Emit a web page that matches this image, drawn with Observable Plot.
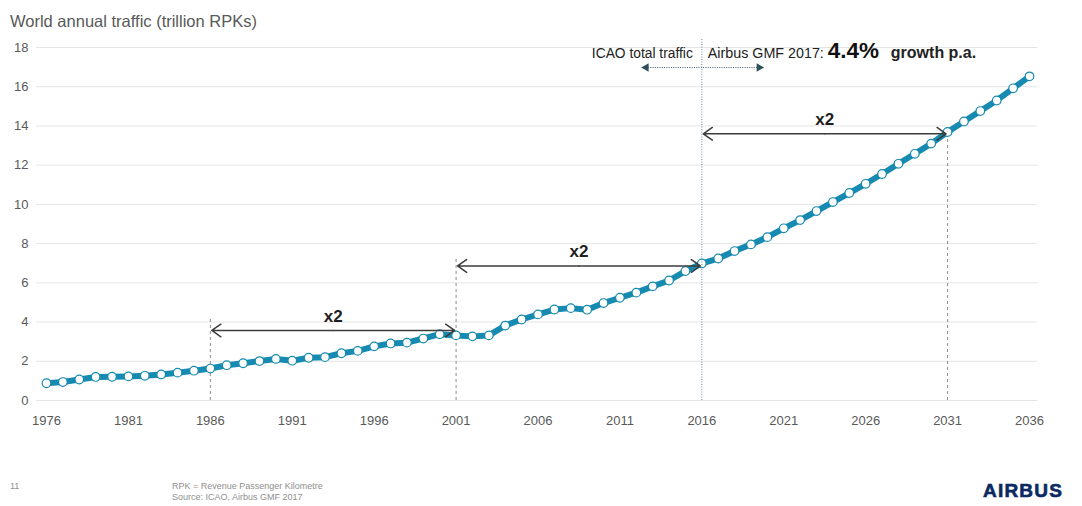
<!DOCTYPE html>
<html>
<head>
<meta charset="utf-8">
<script src="https://cdn.jsdelivr.net/npm/d3@7"></script>
<script src="https://cdn.jsdelivr.net/npm/@observablehq/plot@0.6"></script>
<style>
  html, body { margin: 0; padding: 0; background: #ffffff; }
  body { font-family: "Liberation Sans", Arial, sans-serif; }
  #wrap { position: relative; width: 1082px; height: 506px; overflow: hidden; background: #fff; }
  #chart { position: absolute; left: 0; top: 0; }
  #title { position: absolute; left: 10px; top: 13px; font-size: 16.5px; line-height: 1; color: #595959; white-space: nowrap; }
  .foot { position: absolute; font-size: 9px; line-height: 1; color: #8f8f8f; white-space: nowrap; }
  #logo { position: absolute; left: 983px; top: 481px; font-size: 19px; line-height: 1; font-weight: 900; color: #0b2a5f; letter-spacing: 1.2px; -webkit-text-stroke: 0.6px #0b2a5f; font-family: "Liberation Sans", Arial, sans-serif; }
</style>
</head>
<body>
<div id="wrap">
  <div id="title">World annual traffic (trillion RPKs)</div>
  <div id="chart"></div>
  <div class="foot" style="left:10px; top:482px;">11</div>
  <div class="foot" style="left:172px; top:482px;">RPK = Revenue Passenger Kilometre</div>
  <div class="foot" style="left:172px; top:493px;">Source: ICAO, Airbus GMF 2017</div>
  <div id="logo">AIRBUS</div>
</div>
<script>
// ---- Data ----
const years = [
  1976, 1977, 1978, 1979, 1980, 1981, 1982, 1983, 1984, 1985,
  1986, 1987, 1988, 1989, 1990, 1991, 1992, 1993, 1994, 1995,
  1996, 1997, 1998, 1999, 2000, 2001, 2002, 2003, 2004, 2005,
  2006, 2007, 2008, 2009, 2010, 2011, 2012, 2013, 2014, 2015,
  2016, 2017, 2018, 2019, 2020, 2021, 2022, 2023, 2024, 2025,
  2026, 2027, 2028, 2029, 2030, 2031, 2032, 2033, 2034, 2035,
  2036
];
const rpk = [
  0.88, 0.94, 1.07, 1.20, 1.21, 1.23, 1.26, 1.33, 1.42, 1.52,
  1.63, 1.80, 1.90, 2.01, 2.12, 2.03, 2.18, 2.21, 2.41, 2.53,
  2.76, 2.91, 2.95, 3.16, 3.38, 3.32, 3.27, 3.32, 3.82, 4.13,
  4.39, 4.64, 4.71, 4.63, 4.97, 5.24, 5.50, 5.82, 6.12, 6.60,
  6.99, 7.24, 7.62, 7.96, 8.33, 8.78, 9.20, 9.66, 10.12, 10.58,
  11.05, 11.55, 12.07, 12.58, 13.10, 13.69, 14.23, 14.76, 15.30, 15.92,
  16.53
];
const xTicks = [1976, 1981, 1986, 1991, 1996, 2001, 2006, 2011, 2016, 2021, 2026, 2031, 2036];
const yTicks = [0, 2, 4, 6, 8, 10, 12, 14, 16, 18];

// doubling spans
const spanStart = [1986, 2001, 2016];
const spanEnd = [2001, 2016, 2031];
const spanLevel = [3.57, 6.86, 13.6];
const spanLabel = ["x2", "x2", "x2"];

// dashed guide lines
const guideYears = [1986, 2001, 2031];
const guideTop = [4.25, 7.25, 13.6];

// split between history and forecast
const splitYear = 2016;
const splitTop = 18.45;
const leftLabel = "ICAO total traffic";
const rightLabel = "Airbus GMF 2017:";
const growthRate = "4.4%";
const growthText = "growth p.a.";
const headerLevel = 17.49;
const miniArrowFrom = 2012.6;
const miniArrowTo = 2019.5;
const miniArrowLevel = 16.98;

// ---- Tables built from the arrays ----
const rows = years.map((y, i) => ({year: y, rpk: rpk[i]}));
const spans = spanStart.map((s, i) => ({
  from: s, to: spanEnd[i], mid: (s + spanEnd[i]) / 2, level: spanLevel[i], label: spanLabel[i]
}));
const arrowRows = spans.flatMap(d => [
  {x1: d.mid, x2: d.from, y: d.level},
  {x1: d.mid, x2: d.to, y: d.level}
]);
const guides = guideYears.map((g, i) => ({year: g, top: guideTop[i]}));
const miniHeads = [
  {x: miniArrowFrom, y: miniArrowLevel, rot: -90},
  {x: miniArrowTo, y: miniArrowLevel, rot: 90}
];

const teal = "#168ab0";

const chart = Plot.plot({
  width: 1082,
  height: 440,
  marginTop: 47,
  marginBottom: 40,
  marginLeft: 46,
  marginRight: 53,
  style: {
    fontFamily: "'Liberation Sans', Arial, sans-serif",
    fontSize: "13px",
    color: "#595959",
    background: "transparent",
    overflow: "visible"
  },
  x: {
    domain: [1976, 2036],
    ticks: xTicks,
    tickFormat: d => String(d),
    tickSize: 0,
    tickPadding: 15,
    label: null
  },
  y: {
    domain: [0, 18],
    ticks: yTicks,
    tickSize: 0,
    tickPadding: 18,
    label: null
  },
  marks: [
    // horizontal grid
    Plot.ruleY(yTicks, {x1: () => 1975.4, x2: () => 2036.5, stroke: "#e4e4e4", strokeWidth: 1}),
    // dashed guides
    Plot.ruleX(guides, {x: "year", y1: () => 0, y2: "top", stroke: "#8c8c8c", strokeWidth: 1, strokeDasharray: "3,3"}),
    // series line and markers
    Plot.line(rows, {x: "year", y: "rpk", stroke: teal, strokeWidth: 6}),
    Plot.dot(rows, {x: "year", y: "rpk", r: 4.3, fill: "white", stroke: teal, strokeWidth: 1.2}),
    // split line at 2016
    Plot.ruleX([splitYear], {y1: () => 0, y2: () => splitTop, stroke: "#6f89a6", strokeWidth: 1, strokeDasharray: "1,1.5"}),
    // doubling arrows
    Plot.arrow(arrowRows, {x1: "x1", y1: "y", x2: "x2", y2: "y", stroke: "#3c3c3c", strokeWidth: 1.5, headLength: 11, headAngle: 70, insetEnd: 1.5}),
    Plot.text(spans, {x: "mid", y: "level", text: "label", dy: -14, fontWeight: "bold", fontSize: 17, fill: "#1e1e1e"}),
    // mini dotted arrow under the header
    Plot.ruleY([miniArrowLevel], {x1: () => miniArrowFrom, x2: () => miniArrowTo, stroke: "#3d6470", strokeWidth: 1.2, strokeDasharray: "1,1.3"}),
    Plot.dot(miniHeads, {x: "x", y: "y", symbol: "triangle", r: 3.2, fill: "#2e4f5a", stroke: "none", rotate: "rot"}),
    // header texts
    Plot.text([leftLabel], {x: () => splitYear, y: () => headerLevel, text: d => d, textAnchor: "end", lineAnchor: "bottom", dx: -9, fontSize: 13.8, fill: "#222"}),
    Plot.text([rightLabel], {x: () => splitYear, y: () => headerLevel, text: d => d, textAnchor: "start", lineAnchor: "bottom", dx: 6, fontSize: 14.3, fill: "#222"}),
    Plot.text([growthRate], {x: () => splitYear, y: () => headerLevel, text: d => d, textAnchor: "start", lineAnchor: "bottom", dx: 126, fontSize: 22.5, fontWeight: "bold", fill: "#111"}),
    Plot.text([growthText], {x: () => splitYear, y: () => headerLevel, text: d => d, textAnchor: "start", lineAnchor: "bottom", dx: 189, fontSize: 16, fontWeight: "bold", fill: "#222"})
  ]
});

document.getElementById("chart").appendChild(chart);
</script>
</body>
</html>
